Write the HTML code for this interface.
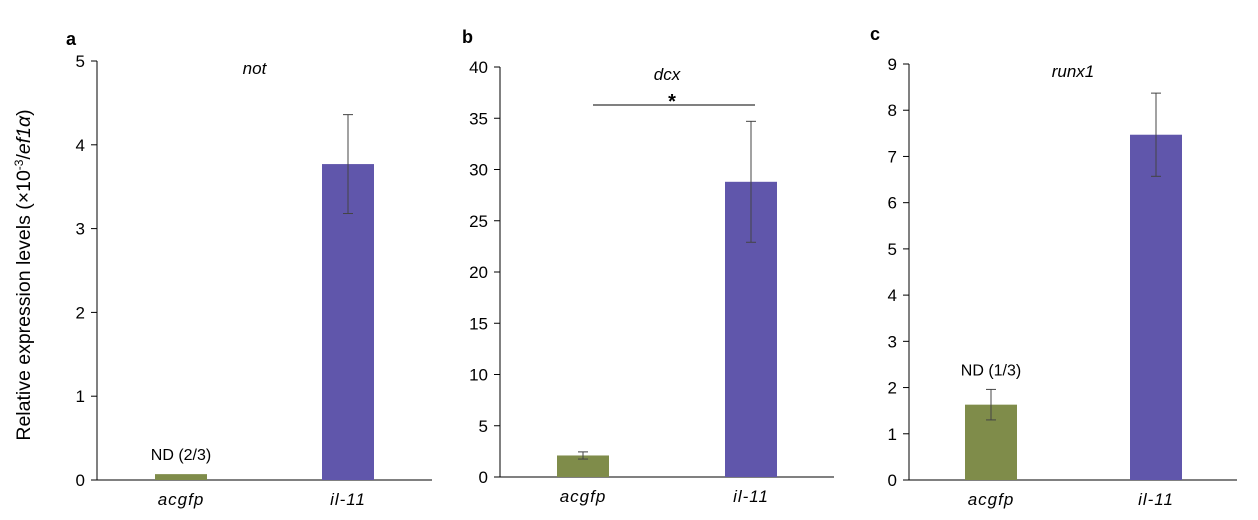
<!DOCTYPE html>
<html><head><meta charset="utf-8"><style>
body{margin:0;background:#fff;}
svg{display:block;font-family:"Liberation Sans","Noto Sans CJK JP",sans-serif;}
</style></head><body>
<svg id="fig" width="1258" height="520">
<text x="30" y="275" font-size="19.5" text-anchor="middle" transform="rotate(-90 30 275)">Relative expression levels (×10<tspan baseline-shift="super" font-size="12">-3</tspan>/<tspan font-style="italic">ef1α</tspan>)</text>
</svg>
<script>
const categories = ["acgfp","il-11"];
const titles = ["not","dcx","runx1"];
const panelLetters = ["a","b","c"];
const valuesA = [0.07, 3.77];
const errA = [0, 0.59];
const valuesB = [2.1, 28.8];
const errB = [0.35, 5.9];
const valuesC = [1.63, 7.47];
const errC = [0.33, 0.9];
const maxes = [5, 40, 9];
const steps = [1, 5, 1];
const ndLabels = ["ND (2/3)", null, "ND (1/3)"];

const layouts = [
 {ax:97, x1:432, top:61, bot:480, bars:[155,322], letterX:66, letterY:45},
 {ax:500, x1:834, top:67, bot:477, bars:[557,725], letterX:462, letterY:43},
 {ax:909, x1:1237, top:64, bot:480, bars:[965,1130], letterX:870, letterY:40}
];
const vals=[valuesA,valuesB,valuesC], errs=[errA,errB,errC];
const colors=["#7f8c4a","#6056ab"];
const svg=document.getElementById('fig');
const NS="http://www.w3.org/2000/svg";
function mk(tag,attrs,parent){const e=document.createElementNS(NS,tag);for(const k in attrs)e.setAttribute(k,attrs[k]);(parent||svg).appendChild(e);return e;}

layouts.forEach((L,p)=>{
 const g=mk('g',{});
 
 
 const y=v=>L.bot-(v/maxes[p])*(L.bot-L.top);
 const lt=mk('text',{x:L.letterX,y:L.letterY,'font-size':18,'font-weight':'bold'},g);lt.textContent=panelLetters[p];
 
 
 const tt=mk('text',{x:(L.ax+L.x1)/2+(p==0?-10:0),y:L.top+13,'font-size':17,'font-style':'italic','text-anchor':'middle'},g);tt.textContent=titles[p];
 
 
 mk('line',{x1:L.ax,y1:L.top,x2:L.ax,y2:L.bot,stroke:'#000','stroke-width':1},g);
 mk('line',{x1:L.ax-6,y1:L.bot,x2:L.x1,y2:L.bot,stroke:'#000','stroke-width':1},g);
 for(let v=0;v<=maxes[p];v+=steps[p]){
  mk('line',{x1:L.ax-6,y1:y(v),x2:L.ax,y2:y(v),stroke:'#000'},g);
  const t=mk('text',{x:L.ax-12,y:y(v)+6,'font-size':17,'text-anchor':'end'},g);t.textContent=v;
  
  
 }
 categories.forEach((c,i)=>{
  const bx=L.bars[i],bw=52,v=vals[p][i],e=errs[p][i];
  const r=mk('rect',{x:bx,y:y(v),width:bw,height:L.bot-y(v),fill:colors[i]},g);
  
  
  const cx=bx+bw/2;
  if(e>0){
   mk('line',{x1:cx,y1:y(v-e),x2:cx,y2:y(v+e),stroke:'#444'},g);
   mk('line',{x1:cx-5,y1:y(v+e),x2:cx+5,y2:y(v+e),stroke:'#444'},g);
   mk('line',{x1:cx-5,y1:y(v-e),x2:cx+5,y2:y(v-e),stroke:'#444'},g);
  }
  const xl=mk('text',{x:cx,y:L.bot+25,'font-size':17,'font-style':'italic','text-anchor':'middle','letter-spacing':'1'},g);xl.textContent=c;
  
  
  if(i==0&&ndLabels[p]){
   const nd=mk('text',{x:cx,y:y(v+e)-14,'font-size':16,'text-anchor':'middle'},g);nd.textContent=ndLabels[p];
   
   
  }
 });
 if(p==1){
  mk('line',{x1:593,y1:105,x2:755,y2:105,stroke:'#000'},g);
  const s=mk('text',{x:672,y:108,'font-size':20,'text-anchor':'middle','font-weight':'bold'},g);s.textContent='*';
  
  
 }
});
</script>
</body></html>
